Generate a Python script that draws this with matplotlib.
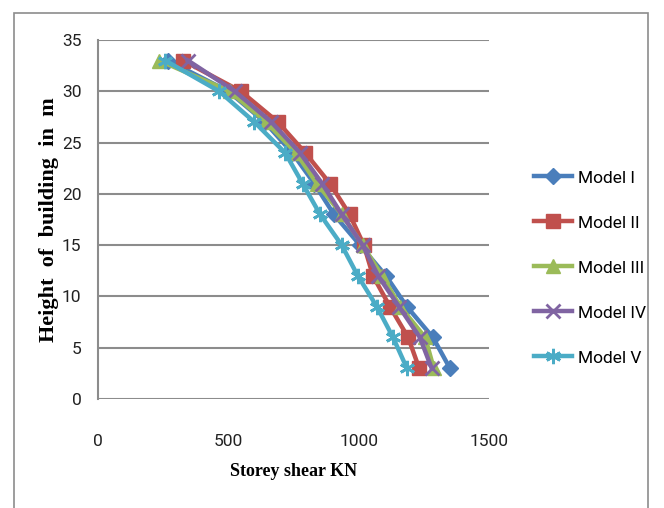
import numpy as np
import matplotlib.pyplot as plt
from matplotlib.patches import Rectangle

# storey heights (m)
height = [3, 6, 9, 12, 15, 18, 21, 24, 27, 30, 33]

# storey shear (KN)
model_1 = [1350, 1285, 1185, 1105, 1005, 905, 830, 745, 640, 500, 268]
model_2 = [1232, 1190, 1120, 1055, 1020, 965, 890, 795, 690, 548, 326]
model_3 = [1288, 1255, 1160, 1090, 1015, 935, 840, 760, 645, 505, 235]
model_4 = [1280, 1235, 1155, 1075, 1015, 935, 860, 775, 665, 525, 345]
model_5 = [1185, 1132, 1070, 997, 935, 852, 785, 718, 600, 465, 258]

names = ['Model I', 'Model II', 'Model III', 'Model IV', 'Model V']
colors = ['#4A7EBB', '#C0504D', '#9BBB59', '#8064A2', '#4BACC6']
markers = ['D', 's', '^', 'x', (6, 2, 0)]
msizes = [8, 10, 10, 10, 11]

sans = 'Roboto'

fig = plt.figure(figsize=(6.64, 5.08), dpi=100)
ax = fig.add_axes([98 / 664, 1 - 399 / 508, (489 - 98) / 664, (399 - 40) / 508])

# outer chart border
fig.patches.append(Rectangle((14 / 664, -0.1), (648 - 14) / 664, 1.1 - 13 / 508,
                             transform=fig.transFigure, fill=False,
                             edgecolor='#8c8c8c', linewidth=1.2))

series = [model_1, model_2, model_3, model_4, model_5]
for vals, name, c, m, ms in zip(series, names, colors, markers, msizes):
    ax.plot(vals, height, color=c, linewidth=3.2, marker=m, markersize=ms,
            markeredgewidth=2 if m in ('x', (6, 2, 0)) else 1,
            markeredgecolor=c, label=name)

ax.set_xlim(0, 1500)
ax.set_ylim(0, 35)
ax.set_xticks([0, 500, 1000, 1500])
ax.set_yticks(range(0, 36, 5))
ax.grid(axis='y', color='#8c8c8c', linewidth=1.5)
ax.set_axisbelow(True)
for s in ['top', 'right', 'bottom']:
    ax.spines[s].set_visible(False)
ax.spines['left'].set_color('#8c8c8c')
ax.spines['left'].set_linewidth(1.5)
ax.tick_params(length=0, labelsize=12.5, colors='#222222')
ax.tick_params(axis='x', pad=25)
ax.tick_params(axis='y', pad=12)
for lab in ax.get_xticklabels() + ax.get_yticklabels():
    lab.set_family(sans)

ax.set_xlabel('Storey shear KN', family='Liberation Serif', fontweight='bold',
              fontsize=13, labelpad=10)
ax.set_ylabel('Height  of  building  in  m', family='Liberation Serif',
              fontweight='bold', fontsize=16, labelpad=2)

leg = ax.legend(loc='center left', bbox_to_anchor=(1.075, 0.365), frameon=False,
                prop={'family': sans, 'size': 12.5}, labelspacing=1.72,
                handlelength=2.2, handletextpad=0.35)

plt.savefig('out.png')
